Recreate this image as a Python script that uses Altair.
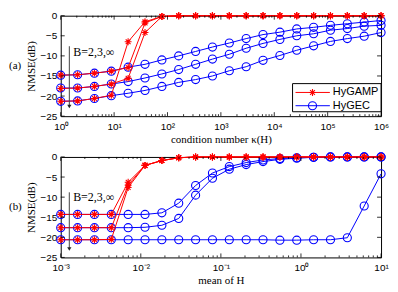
import altair as alt
import pandas as pd

# ---------------- data ----------------
kappa = [1, 2.07, 4.28, 8.86, 18.3, 37.9, 78.5, 162, 336, 695, 1438, 2976,
         6158, 12743, 26367, 54556, 112884, 233572, 483293, 1000000]
gamp_a_B2 = [-14.8, -14.7, -14.3, -13.8, -12.9, -1.8, -0.2, 0, 0, 0, 0, 0, 0, 0, 0, 0, 0, 0, 0, 0]
gamp_a_B3 = [-18.1, -18.0, -17.6, -17.0, -15.6, -4.2, -0.2, 0, 0, 0, 0, 0, 0, 0, 0, 0, 0, 0, 0, 0]
gamp_a_Binf = [-21.3, -21.2, -20.6, -19.8, -6.5, -1.5, -0.2, 0, 0, 0, 0, 0, 0, 0, 0, 0, 0, 0, 0, 0]
gec_a_B2 = [-14.8, -14.7, -14.3, -13.8, -12.8, -12.1, -11.0, -10.0, -8.9, -7.8,
            -6.8, -5.7, -4.7, -4.1, -3.3, -2.9, -2.4, -2.0, -1.6, -1.2]
gec_a_B3 = [-18.0, -18.0, -17.6, -17.0, -16.4, -15.5, -14.5, -13.4, -12.1, -10.8,
            -9.6, -8.1, -6.9, -5.9, -5.0, -4.5, -3.6, -3.2, -2.6, -2.4]
gec_a_Binf = [-21.3, -21.2, -20.6, -19.9, -19.3, -18.6, -17.6, -16.6, -15.9, -15.0,
              -13.7, -12.7, -11.1, -9.9, -8.6, -7.5, -6.4, -5.7, -5.1, -4.2]

mean_h = [0.001, 0.001624, 0.002637, 0.004281, 0.006952, 0.01129, 0.01833, 0.02976,
          0.04833, 0.07848, 0.1274, 0.2069, 0.336, 0.5456, 0.8859, 1.438, 2.336,
          3.793, 6.158, 10]
gamp_b_B2 = [-14.3, -14.3, -14.3, -14.3, -6.3, -2.1, -0.9, -0.2, 0, 0, 0, 0, 0, 0, 0, 0, 0, 0, 0, 0]
gamp_b_B3 = [-17.6, -17.6, -17.6, -17.6, -7.0, -2.1, -0.9, -0.2, 0, 0, 0, 0, 0, 0, 0, 0, 0, 0, 0, 0]
gamp_b_Binf = [-20.6, -20.6, -20.6, -20.5, -7.6, -2.1, -0.9, -0.2, 0, 0, 0, 0, 0, 0, 0, 0, 0, 0, 0, 0]
gec_b_B2 = [-14.3, -14.3, -14.3, -14.3, -14.3, -14.3, -13.9, -11.5, -7.1, -4.0,
            -2.4, -1.4, -0.75, -0.4, -0.2, -0.1, 0, 0, 0, 0]
gec_b_B3 = [-17.6, -17.6, -17.6, -17.6, -17.6, -17.5, -17.0, -15.3, -9.5, -5.3,
            -3.05, -1.9, -1.15, -0.6, -0.3, -0.1, 0, 0, 0, 0]
gec_b_Binf = [-20.6, -20.6, -20.6, -20.6, -20.6, -20.6, -20.6, -20.6, -20.6, -20.6,
              -20.6, -20.6, -20.6, -20.7, -20.7, -20.6, -20.6, -20.1, -12.2, -4.2]

series_names = ["HyGAMP", "HyGEC"]
series_colors = ["#ff0000", "#0000ff"]
b_labels = ["2", "3", "inf"]

x_major_a = [1, 10, 100, 1000, 10000, 100000, 1000000]
x_major_b = [0.001, 0.01, 0.1, 1, 10]
y_major = [-25, -20, -15, -10, -5, 0]

# legend (panel a), in data coordinates
legend_rows_y = [-19.1, -22.4]
legend_box = {"x": 22000, "x2": 1000000, "y": -16.9, "y2": -23.9}
legend_line_x = (25000, 110000)
legend_marker_x = 52000
legend_text_x = 125000

# ---------------- layout / style ----------------
W, H = 322, 101
SERIF = "Liberation Serif"
SANS = "Liberation Sans"
ASTERISK = "M-1,0L1,0M0,-1L0,1M-0.7,-0.7L0.7,0.7M-0.7,0.7L0.7,-0.7"

SUP_EXPR = ("['10\u207b\u00b3','10\u207b\u00b2','10\u207b\u00b9','10\u2070','10\u00b9',"
            "'10\u00b2','10\u00b3','10\u2074','10\u2075','10\u2076']"
            "[round(log(datum.value)/LN10)+3]")


def long_df(x, gamp, gec):
    rows = []
    for name, curves in (("HyGAMP", gamp), ("HyGEC", gec)):
        for b, ys in zip(b_labels, curves):
            for xv, yv in zip(x, ys):
                rows.append({"x": xv, "y": yv, "series": name, "grp": name + b})
    return pd.DataFrame(rows)


def panel(x, gamp, gec, xdom, xmajor, xtitle, letter, arrow, btext, legend):
    df = long_df(x, gamp, gec)
    xs = alt.Scale(type="log", domain=xdom, nice=False)
    ys = alt.Scale(domain=[-25, 0], nice=False)
    cs = alt.Scale(domain=series_names, range=series_colors)
    ss = alt.Scale(domain=series_names, range=[ASTERISK, "circle"])
    sz = alt.Scale(domain=series_names, range=[48, 66])

    xaxis = alt.Axis(values=xmajor, labelExpr=SUP_EXPR, title=xtitle, labelPadding=5,
                     titlePadding=2, labelFlush=False, labelOverlap=False)
    yaxis = alt.Axis(values=y_major, title="NMSE(dB)", labelPadding=4, titlePadding=3,
                     labelFlush=False, labelOverlap=False)

    def X(f):
        return alt.X(f, scale=xs, axis=xaxis)

    def Y(f):
        return alt.Y(f, scale=ys, axis=yaxis)

    layers = []
    for name in ["HyGEC", "HyGAMP"]:
        sub = df[df.series == name]
        base = alt.Chart(sub)
        layers.append(base.mark_line(strokeWidth=1).encode(
            x=X("x:Q"), y=Y("y:Q"),
            color=alt.Color("series:N", scale=cs, legend=None),
            detail="grp:N"))
        layers.append(base.mark_point(filled=False, strokeWidth=1.1, opacity=1).encode(
            x=X("x:Q"), y=Y("y:Q"),
            color=alt.Color("series:N", scale=cs, legend=None),
            shape=alt.Shape("series:N", scale=ss, legend=None),
            size=alt.Size("series:N", scale=sz, legend=None)))

    # inside ticks (MATLAB style)
    minor = [m * v for v in xmajor[:-1] for m in range(2, 10)]
    for vals, L in ((xmajor, 4), (minor, 2)):
        tdf = pd.DataFrame({"x": vals})
        for y1, y2 in ((H, H - L), (0, L)):
            layers.append(alt.Chart(tdf).mark_rule(color="black", strokeWidth=0.8).encode(
                x=X("x:Q"), y=alt.value(y1), y2=alt.value(y2)))
    ydf = pd.DataFrame({"y": y_major})
    for x1, x2 in ((0, 4), (W, W - 4)):
        layers.append(alt.Chart(ydf).mark_rule(color="black", strokeWidth=0.8).encode(
            y=Y("y:Q"), x=alt.value(x1), x2=alt.value(x2)))

    # B=2,3,inf annotation with arrow
    adf = pd.DataFrame({"x": [arrow[0]], "y": [arrow[1]], "y2": [arrow[2]]})
    layers.append(alt.Chart(adf).mark_rule(color="#444", strokeWidth=1).encode(
        x=X("x:Q"), y=Y("y:Q"), y2="y2:Q"))
    adf2 = pd.DataFrame({"x": [arrow[0]], "y": [arrow[2]]})
    layers.append(alt.Chart(adf2).mark_point(shape="triangle-down", filled=True, size=18,
                                             color="#222", opacity=1).encode(
        x=X("x:Q"), y=Y("y:Q")))
    bdf = pd.DataFrame({"x": [btext[0]], "y": [btext[1]], "t": ["B=2,3,\u221e"]})
    layers.append(alt.Chart(bdf).mark_text(align="left", baseline="middle", font=SERIF,
                                           fontSize=12, color="black").encode(
        x=X("x:Q"), y=Y("y:Q"), text="t:N"))

    # legend drawn from marks
    if legend:
        bx = pd.DataFrame([legend_box])
        layers.append(alt.Chart(bx).mark_rect(fill="white", stroke="black", strokeWidth=1).encode(
            x=X("x:Q"), x2="x2:Q", y=Y("y:Q"), y2="y2:Q"))
        ld = pd.DataFrame({"series": series_names, "y": legend_rows_y,
                           "x": [legend_line_x[0]] * 2, "x2": [legend_line_x[1]] * 2})
        layers.append(alt.Chart(ld).mark_rule(strokeWidth=1).encode(
            x=X("x:Q"), x2="x2:Q", y=Y("y:Q"),
            color=alt.Color("series:N", scale=cs, legend=None)))
        lm = pd.DataFrame({"series": series_names, "y": legend_rows_y,
                           "x": [legend_marker_x] * 2})
        layers.append(alt.Chart(lm).mark_point(filled=False, strokeWidth=1.1, opacity=1).encode(
            x=X("x:Q"), y=Y("y:Q"),
            color=alt.Color("series:N", scale=cs, legend=None),
            shape=alt.Shape("series:N", scale=ss, legend=None),
            size=alt.Size("series:N", scale=sz, legend=None)))
        lt = pd.DataFrame({"series": series_names, "y": legend_rows_y,
                           "x": [legend_text_x] * 2})
        layers.append(alt.Chart(lt).mark_text(align="left", baseline="middle", font=SANS,
                                              fontSize=11, color="black").encode(
            x=X("x:Q"), y=Y("y:Q"), text="series:N"))

    # panel letter
    ldf = pd.DataFrame({"t": [letter]})
    layers.append(alt.Chart(ldf).mark_text(align="left", baseline="middle", font=SERIF,
                                           fontSize=11, color="black").encode(
        x=alt.value(-52), y=alt.value(H / 2), text="t:N"))

    return alt.layer(*layers).properties(width=W, height=H)


top = panel(kappa, [gamp_a_B2, gamp_a_B3, gamp_a_Binf], [gec_a_B2, gec_a_B3, gec_a_Binf],
            [1, 1000000], x_major_a, "condition number \u03ba(H)", "(a)",
            (1.45, -7.6, -22.6), (1.72, -9.0), True)
bottom = panel(mean_h, [gamp_b_B2, gamp_b_B3, gamp_b_Binf], [gec_b_B2, gec_b_B3, gec_b_Binf],
               [0.001, 10], x_major_b, "mean of H", "(b)",
               (0.00128, -8.8, -22.9), (0.00143, -9.9), False)

chart = alt.vconcat(top, bottom, spacing=5, padding=0).resolve_scale(
    x="independent", y="independent", color="independent", shape="independent",
    size="independent"
).configure_view(
    stroke="black", strokeWidth=1
).configure_axis(
    domain=False, ticks=False, grid=False, labelFont=SANS, labelFontSize=10,
    labelColor="black", titleFont=SERIF, titleFontSize=11, titleFontWeight="normal",
    titleColor="black"
)

chart.save("out.html", embed_options={"renderer": "svg", "actions": False})
